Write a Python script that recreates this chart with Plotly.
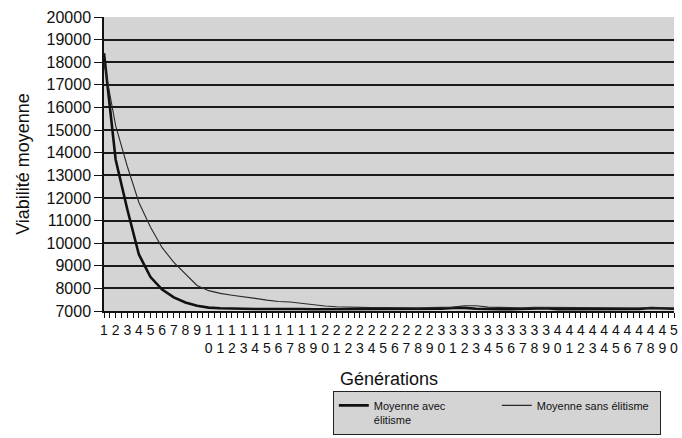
import plotly.graph_objects as go

generations = list(range(1, 51))

avec_elitisme = [18400, 13700, 11500, 9500, 8500, 7950, 7600, 7380, 7230, 7150,
                 7120, 7100, 7100, 7090, 7090, 7100, 7100, 7090, 7080, 7080,
                 7080, 7080, 7080, 7080, 7080, 7080, 7080, 7070, 7080, 7100,
                 7130, 7140, 7100, 7080, 7080, 7080, 7090, 7130, 7120, 7080,
                 7080, 7080, 7080, 7080, 7080, 7080, 7090, 7130, 7120, 7100]

sans_elitisme = [18000, 15200, 13400, 11800, 10700, 9800, 9150, 8620, 8130, 7900,
                 7780, 7700, 7640, 7560, 7480, 7420, 7400, 7330, 7260, 7220,
                 7190, 7170, 7160, 7150, 7150, 7140, 7140, 7140, 7150, 7150,
                 7170, 7230, 7230, 7170, 7150, 7140, 7140, 7160, 7160, 7140,
                 7130, 7130, 7130, 7130, 7130, 7130, 7130, 7160, 7150, 7130]

tick_labels = [str(g) if g < 10 else "<br>".join(str(g)) for g in generations]
y_ticks = list(range(7000, 20001, 1000))
y_labels = [str(v) for v in y_ticks]

font_family = "Liberation Sans, Arial, sans-serif"

fig = go.Figure()
fig.add_trace(go.Scatter(x=generations, y=avec_elitisme, mode="lines",
                         name="Moyenne avec<br>élitisme",
                         line=dict(color="#111111", width=2.6)))
fig.add_trace(go.Scatter(x=generations, y=sans_elitisme, mode="lines",
                         name="Moyenne sans élitisme",
                         line=dict(color="#2a2a2a", width=1.1)))

fig.update_layout(
    width=682, height=438,
    margin=dict(l=104, r=4, t=17, b=127),
    paper_bgcolor="white",
    plot_bgcolor="#d4d4d4",
    font=dict(family=font_family, color="#111111"),
    showlegend=True,
    legend=dict(orientation="h", xref="container", yref="container",
                x=0.488, y=0.108, xanchor="left", yanchor="top",
                bgcolor="#d4d4d4", bordercolor="#222222", borderwidth=1,
                font=dict(size=11, family=font_family, color="#111111"),
                entrywidth=118, entrywidthmode="pixels", itemwidth=30,
                valign="top", traceorder="normal"),
    xaxis=dict(range=[1, 50], tickmode="array", tickvals=generations, ticktext=tick_labels,
               showgrid=False, zeroline=False, showline=True, linecolor="#111111", linewidth=1.5,
               ticks="outside", ticklen=5, tickcolor="#111111", tickwidth=1,
               tickfont=dict(size=14, family=font_family, color="#111111"), tickangle=0,
               ticklabeloverflow="allow",
               minor=dict(ticks="outside", ticklen=5, tickcolor="#111111", tickwidth=1,
                          tickmode="linear", tick0=0.5, dtick=0.5, showgrid=False),
               title=dict(text="Générations", font=dict(size=18, family=font_family), standoff=18)),
    yaxis=dict(range=[7000, 20000], tickmode="array", tickvals=y_ticks, ticktext=y_labels,
               showgrid=True, gridcolor="#1a1a1a", gridwidth=1.5, zeroline=False,
               showline=True, linecolor="#111111", linewidth=1.5,
               ticks="outside", ticklen=8, tickcolor="#111111", tickwidth=1,
               tickfont=dict(size=16, family=font_family, color="#111111"),
               title=dict(text="Viabilité moyenne", font=dict(size=18, family=font_family), standoff=12)),
)

fig.write_html("out.html")
